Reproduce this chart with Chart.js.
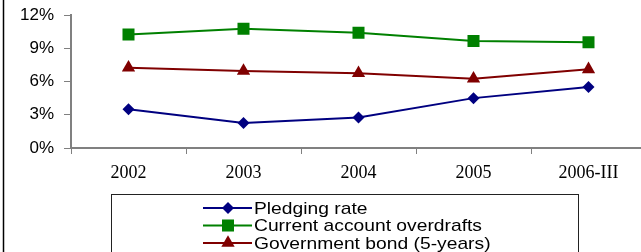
<!DOCTYPE html>
<html lang="en">
<head>
    <meta charset="UTF-8">
    <title>Interest rates</title>
    <script src="https://cdn.jsdelivr.net/npm/chart.js"></script>
    <style>
        html, body { margin: 0; padding: 0; background: #fff; overflow: hidden; }
        #wrap { position: relative; width: 641px; height: 252px; overflow: hidden; }
        canvas { display: block; }
    </style>
</head>
<body>
    <div id="wrap"><canvas id="rateChart" width="646" height="252"></canvas></div>
    <script>
        // values, in percent
        const years = ['2002', '2003', '2004', '2005', '2006-III'];
        const pledgingRate = [3.5, 2.25, 2.75, 4.5, 5.5];
        const currentAccount = [10.25, 10.75, 10.4, 9.65, 9.55];
        const governmentBond = [7.25, 6.95, 6.75, 6.25, 7.1];
        const yTickValues = [0, 3, 6, 9, 12];

        // legend box + left frame line, drawn by hand
        const legendBox = {
            id: 'legendBox',
            afterDraw(chart) {
                const ctx = chart.ctx;
                ctx.save();
                ctx.strokeStyle = '#000';
                ctx.lineWidth = 1.5;
                ctx.beginPath();
                ctx.moveTo(3.5, 0);
                ctx.lineTo(3.5, 252);
                ctx.stroke();

                ctx.lineWidth = 1;
                ctx.strokeStyle = '#222';
                ctx.strokeRect(111.5, 194.5, 467, 80);

                ctx.font = '17px "Liberation Sans", Arial, sans-serif';
                const stretch = 228 / ctx.measureText('Current account overdrafts').width;
                const rows = [208, 225.5, 243];
                chart.data.datasets.forEach((ds, i) => {
                    const y = rows[i];
                    ctx.strokeStyle = ds.borderColor;
                    ctx.lineWidth = 2;
                    ctx.beginPath();
                    ctx.moveTo(203, y);
                    ctx.lineTo(252, y);
                    ctx.stroke();
                    ctx.fillStyle = ds.backgroundColor;
                    Chart.helpers.drawPoint(ctx, {
                        pointStyle: ds.pointStyle,
                        radius: ds.pointRadius,
                        rotation: 0,
                        borderWidth: 0
                    }, 228, y);
                    ctx.save();
                    ctx.fillStyle = '#000';
                    ctx.textBaseline = 'middle';
                    ctx.translate(254, y + 1);
                    ctx.scale(stretch, 1);
                    ctx.fillText(ds.label, 0, 0);
                    ctx.restore();
                });
                ctx.restore();
            }
        };

        new Chart(document.getElementById('rateChart'), {
            type: 'line',
            data: {
                labels: years,
                datasets: [{
                    label: 'Pledging rate',
                    data: pledgingRate,
                    borderColor: '#000080',
                    backgroundColor: '#000080',
                    pointStyle: 'rectRot',
                    pointRadius: 6
                }, {
                    label: 'Current account overdrafts',
                    data: currentAccount,
                    borderColor: '#008000',
                    backgroundColor: '#008000',
                    pointStyle: 'rect',
                    pointRadius: 8.5
                }, {
                    label: 'Government bond (5-years)',
                    data: governmentBond,
                    borderColor: '#800000',
                    backgroundColor: '#800000',
                    pointStyle: 'triangle',
                    pointRadius: 7.7
                }]
            },
            options: {
                responsive: false,
                animation: false,
                layout: { autoPadding: false, padding: { top: 15, left: 0, right: 0, bottom: 0 } },
                elements: {
                    line: { borderWidth: 2, tension: 0 },
                    point: { borderWidth: 0 }
                },
                plugins: {
                    legend: { display: false },
                    tooltip: { enabled: false }
                },
                scales: {
                    x: {
                        offset: true,
                        grid: { drawOnChartArea: false, drawTicks: true, tickLength: 6, color: '#808080', offset: true },
                        border: { color: '#808080', width: 2 },
                        ticks: {
                            color: '#000',
                            padding: 8,
                            maxRotation: 0,
                            font: { family: '"Liberation Serif", "Times New Roman", serif', size: 18 }
                        },
                        afterFit(scale) { scale.height = 104; }
                    },
                    y: {
                        min: 0,
                        max: 12,
                        afterBuildTicks(scale) { scale.ticks = yTickValues.map(v => ({ value: v })); },
                        grid: { drawOnChartArea: false, drawTicks: true, tickLength: 7, color: '#808080' },
                        border: { color: '#808080', width: 2 },
                        ticks: {
                            color: '#000',
                            padding: 10,
                            font: { family: '"Liberation Sans", Arial, sans-serif', size: 17 },
                            callback: v => v + '%'
                        },
                        afterFit(scale) {
                            scale.width = 71;
                            scale.paddingTop = 0;
                            scale.paddingBottom = 0;
                        }
                    }
                }
            },
            plugins: [legendBox]
        });
    </script>
</body>
</html>
